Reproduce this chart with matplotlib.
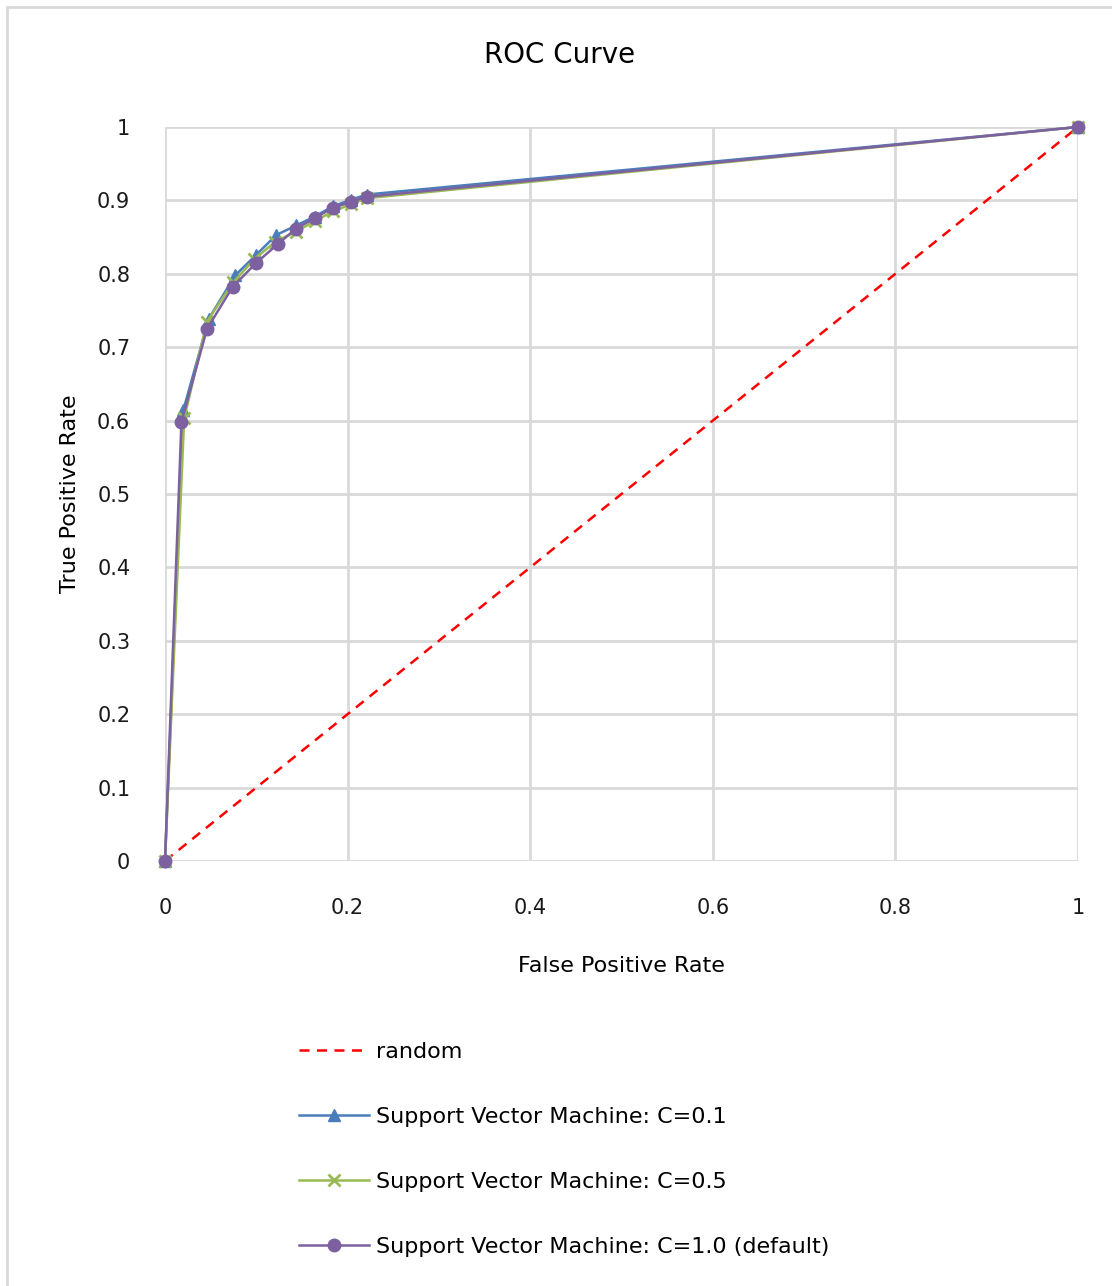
import matplotlib.pyplot as plt
from matplotlib.lines import Line2D
from matplotlib.patches import Rectangle

# ROC points for each SVM setting (false positive rate, true positive rate)
fpr_c01 = [0.0, 0.020, 0.048, 0.077, 0.100, 0.122, 0.144, 0.164, 0.184, 0.204, 0.221, 1.0]
tpr_c01 = [0.0, 0.614, 0.739, 0.798, 0.826, 0.853, 0.866, 0.878, 0.892, 0.901, 0.908, 1.0]

fpr_c05 = [0.0, 0.021, 0.046, 0.075, 0.098, 0.121, 0.143, 0.164, 0.184, 0.204, 0.221, 1.0]
tpr_c05 = [0.0, 0.603, 0.735, 0.789, 0.820, 0.844, 0.857, 0.872, 0.885, 0.895, 0.903, 1.0]

fpr_c10 = [0.0, 0.018, 0.046, 0.074, 0.100, 0.124, 0.143, 0.164, 0.184, 0.204, 0.221, 1.0]
tpr_c10 = [0.0, 0.598, 0.725, 0.782, 0.815, 0.841, 0.861, 0.876, 0.890, 0.898, 0.905, 1.0]

random_x = [0, 1]
random_y = [0, 1]

series_labels = ['Support Vector Machine: C=0.1',
                 'Support Vector Machine: C=0.5',
                 'Support Vector Machine: C=1.0 (default)']

blue = '#4a7ebb'
green = '#98b954'
purple = '#7d60a0'

W, H = 1112, 1286
fig = plt.figure(figsize=(W / 100, H / 100), dpi=100)
plt.rcParams['font.family'] = ['DejaVu Sans']

# outer chart border
fig.patches.append(Rectangle((7 / W, -0.01), 1.1, 1 - 7 / H + 0.01, transform=fig.transFigure,
                             fill=False, edgecolor='#d9d9d9', linewidth=2))

ax = fig.add_axes([165 / W, 1 - 861 / H, (1078 - 165) / W, (861 - 127) / H])

ax.plot(random_x, random_y, color='#ff0000', linestyle=(0, (4, 3)), linewidth=1.8, zorder=3)
ax.plot(fpr_c01, tpr_c01, color=blue, marker='^', markersize=8, linewidth=1.8, zorder=4,
        clip_on=False)
ax.plot(fpr_c05, tpr_c05, color=green, marker='x', markersize=8, markeredgewidth=2,
        linewidth=1.8, zorder=5, clip_on=False)
ax.plot(fpr_c10, tpr_c10, color=purple, marker='o', markersize=9, linewidth=1.8, zorder=6,
        clip_on=False)

ax.set_xlim(0, 1)
ax.set_ylim(0, 1)
ax.set_xticks([0, 0.2, 0.4, 0.6, 0.8, 1])
ax.set_xticklabels(['0', '0.2', '0.4', '0.6', '0.8', '1'])
ax.set_yticks([i / 10 for i in range(11)])
ax.set_yticklabels(['0'] + ['0.%d' % i for i in range(1, 10)] + ['1'])
ax.grid(True, color='#d9d9d9', linewidth=2)
ax.set_axisbelow(True)
for s in ax.spines.values():
    s.set_visible(False)
ax.tick_params(length=0, labelsize=15, colors='#1a1a1a')
ax.tick_params(axis='y', pad=25)
ax.tick_params(axis='x', pad=27)

ax.set_xlabel('False Positive Rate', fontsize=16, labelpad=27)
ax.set_ylabel('True Positive Rate', fontsize=16, labelpad=12)
fig.text(560 / W, 1 - 55 / H, 'ROC Curve', ha='center', va='center', fontsize=20)

handles = [Line2D([], [], color='#ff0000', linestyle=(0, (4, 3)), linewidth=1.8),
           Line2D([], [], color=blue, marker='^', markersize=8, linewidth=1.8),
           Line2D([], [], color=green, marker='x', markersize=8, markeredgewidth=2, linewidth=1.8),
           Line2D([], [], color=purple, marker='o', markersize=9, linewidth=1.8)]
fig.legend(handles, ['random'] + series_labels, loc='upper left',
           bbox_to_anchor=(279 / W, 1 - 1022 / H), frameon=False, fontsize=16,
           handlelength=3.15, handletextpad=0.3, labelspacing=2.02)

fig.savefig('out.png', dpi=100)
